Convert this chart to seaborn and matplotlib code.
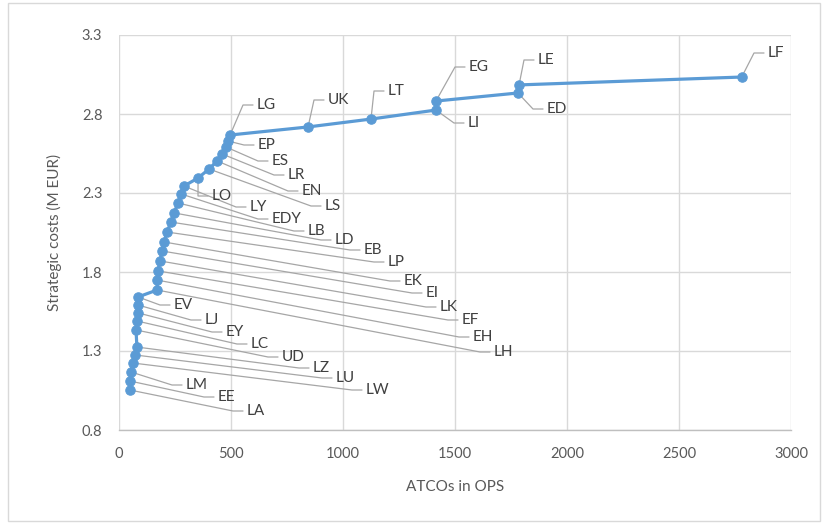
import matplotlib
matplotlib.use("Agg")
import matplotlib.pyplot as plt
import seaborn as sns
import pandas as pd
from matplotlib.patches import Rectangle

# ---- data ----
codes = ["LF", "LE", "ED", "EG", "LI", "LT", "UK", "LG", "EP", "ES", "LR", "EN", "LS",
         "LO", "LY", "EDY", "LB", "LD", "EB", "LP", "EK", "EI", "LK", "EF", "EH", "LH",
         "EV", "LJ", "EY", "LC", "UD", "LZ", "LU", "LW", "LM", "EE", "LA"]
atcos = [2780, 1786, 1781, 1415, 1415, 1125, 844, 496, 487, 478, 460, 438, 402,
         353, 290, 277, 263, 246, 232, 214, 201, 192, 183, 174, 170, 170,
         85, 85, 85, 80, 76, 80, 71, 62, 54, 49, 49]
costs = [3.034, 2.984, 2.933, 2.882, 2.825, 2.768, 2.718, 2.667, 2.629, 2.591, 2.547, 2.503, 2.452,
         2.395, 2.344, 2.294, 2.237, 2.174, 2.116, 2.053, 1.990, 1.933, 1.870, 1.807, 1.749, 1.686,
         1.642, 1.591, 1.541, 1.490, 1.433, 1.325, 1.275, 1.224, 1.167, 1.110, 1.053]

x_ticks = [0, 500, 1000, 1500, 2000, 2500, 3000]
y_ticks = [0.8, 1.3, 1.8, 2.3, 2.8, 3.3]

# ---- label layout (pixel positions of label left edge / leader end) ----
label_px = {
    "LF": (768, 53), "LE": (538, 60), "ED": (547, 109), "EG": (469, 67), "LI": (468, 123),
    "LT": (388, 91), "UK": (328, 100), "LG": (257, 105),
    "EP": (258, 145), "ES": (272, 161), "LR": (288, 175), "EN": (302, 191), "LS": (325, 206),
    "LO": (212, 196), "LY": (250, 207), "EDY": (272, 219), "LB": (308, 231), "LD": (335, 240),
    "EB": (364, 250), "LP": (388, 262), "EK": (404, 281), "EI": (426, 293), "LK": (440, 307),
    "EF": (462, 320), "EH": (473, 337), "LH": (494, 352),
    "EV": (174, 305), "LJ": (205, 320), "EY": (226, 332), "LC": (251, 344), "UD": (282, 357),
    "LZ": (313, 368), "LU": (336, 378), "LW": (366, 390), "LM": (186, 385), "EE": (218, 397),
    "LA": (247, 411),
}

W, H = 828, 524
AX_L, AX_R, AX_T, AX_B = 119, 791, 35, 430

def px_to_data(px, py):
    x = (px - AX_L) / (AX_R - AX_L) * 3000
    y = 3.3 - (py - AX_T) / (AX_B - AX_T) * 2.5
    return x, y

df = pd.DataFrame({"code": codes, "atcos": atcos, "cost": costs})

sns.set_theme(style="whitegrid")
plt.rcParams["font.family"] = ["Lato", "DejaVu Sans"]

fig = plt.figure(figsize=(W / 100, H / 100), dpi=100)
ax = fig.add_axes([AX_L / W, 1 - AX_B / H, (AX_R - AX_L) / W, (AX_B - AX_T) / H])

blue = "#5B9BD5"
sns.lineplot(data=df, x="atcos", y="cost", sort=False, estimator=None, color=blue,
             linewidth=2.3, marker="o", markersize=6.8, markeredgecolor=blue,
             markerfacecolor=blue, ax=ax, zorder=3)

ax.set_xlim(0, 3000)
ax.set_ylim(0.8, 3.3)
ax.set_xticks(x_ticks)
ax.set_yticks(y_ticks)
ax.set_xticklabels([str(t) for t in x_ticks])
ax.set_yticklabels([f"{t:.1f}" for t in y_ticks])
ax.grid(True, color="#d9d9d9", linewidth=1.0)
for s in ["top", "right", "left"]:
    ax.spines[s].set_visible(False)
ax.spines["bottom"].set_visible(True)
ax.spines["bottom"].set_color("#bfbfbf")
ax.spines["bottom"].set_linewidth(1.0)
ax.tick_params(axis="both", colors="#595959", labelsize=10.5, length=0)
ax.tick_params(axis="y", pad=12)
ax.tick_params(axis="x", pad=12)

ax.set_xlabel("ATCOs in OPS", fontsize=11, color="#595959", labelpad=14)
ax.set_ylabel("Strategic costs (M EUR)", fontsize=11, color="#595959", labelpad=14)

leader = "#a6a6a6"
for c, xv, yv in zip(codes, atcos, costs):
    lpx, lpy = label_px[c]
    lx, ly = px_to_data(lpx - 4, lpy)
    hx, _ = px_to_data(lpx - 14, lpy)
    ax.plot([xv, hx, lx], [yv, ly, ly], color=leader, linewidth=0.9, zorder=2)
    tx, ty = px_to_data(lpx, lpy)
    ax.text(tx, ty, c, fontsize=11, color="#404040", ha="left", va="center", zorder=4)

fig.patches.append(Rectangle((8 / W, 3 / H), (820 - 8) / W, (521 - 3) / H,
                             transform=fig.transFigure, fill=False,
                             edgecolor="#d9d9d9", linewidth=1.0))

fig.savefig("out.png", dpi=100)
